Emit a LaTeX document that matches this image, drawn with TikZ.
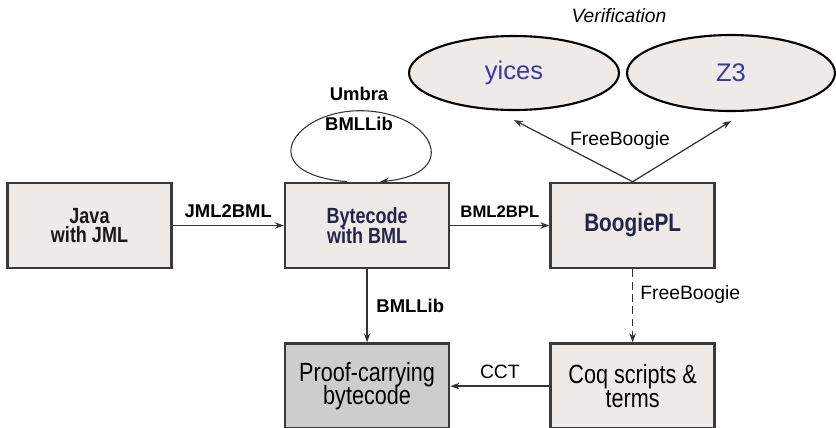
\documentclass[tikz,border=0pt]{standalone}
\usepackage{fontspec}
\setmainfont{Liberation Sans}
\newfontfamily\narrowsf[FakeStretch=0.82]{Liberation Sans}
\usepackage{xcolor}
\usetikzlibrary{arrows.meta,positioning,shapes.geometric}

\definecolor{boxfill}{HTML}{EEEAE7}
\definecolor{pcbfill}{HTML}{CDCDCD}
\definecolor{boxline}{HTML}{3A3A3A}
\definecolor{navy}{HTML}{24244A}
\definecolor{solverblue}{HTML}{3A3A9E}
\setlength{\lineskiplimit}{-20pt}

\begin{document}
\begin{tikzpicture}[
  x=0.02cm, y=-0.02cm,
  box/.style={draw=boxline, line width=1.5pt, fill=boxfill, align=center,
              minimum width=3.28cm, minimum height=1.7cm, inner sep=2pt},
  tool/.style={box, font=\narrowsf\bfseries\fontsize{12.5}{11}\selectfont},
  result/.style={box, font=\narrowsf\fontsize{15}{13.5}\selectfont},
  solver/.style={ellipse, draw, line width=1.2pt, fill=boxfill, inner sep=0pt,
                 text=solverblue, font=\fontsize{14.5}{16}\selectfont},
  lbl/.style={font=\bfseries\fontsize{10.5}{12}\selectfont, inner sep=1pt},
  note/.style={font=\fontsize{11}{12}\selectfont, inner sep=1pt},
  arr/.style={-{Stealth[length=1.8mm, width=1.3mm]}, line width=0.7pt, draw=black!80}
]
\useasboundingbox (0,0) rectangle (836,427);
\node[tool, text=black!90] (java) at (89.5,225.5) {Java\\with JML};
\node[tool, text=navy, right=2.22cm of java] (byte) {Bytecode\\with BML};
\node[tool, text=navy, right=1.98cm of byte,
      font=\narrowsf\bfseries\fontsize{14.4}{15}\selectfont] (boogie) {BoogiePL};
\node[result, fill=pcbfill, below=1.46cm of byte] (pcb) {Proof-carrying\\bytecode};
\node[result, below=1.46cm of boogie] (coq) {Coq scripts \&\\terms};
\node[solver, minimum width=4.2cm, minimum height=1.48cm] (yices) at (514,73) {yices};
\node[solver, minimum width=4.16cm, minimum height=1.52cm] (z3) at (731,73) {Z3};
\node[note, font=\itshape\fontsize{11}{12}\selectfont] (verif) at (619,16) {Verification};
\node[note] (fbtop) at (620,140) {FreeBoogie};
\node[lbl, align=center] (umbra) at (359,109) {Umbra\\[5pt]BMLLib};
\draw[arr] (java) -- node[lbl, above=3pt] {JML2BML} (byte);
\draw[arr] (byte) -- node[lbl, above=3pt, font=\bfseries\fontsize{9.5}{11}\selectfont] {BML2BPL} (boogie);
\draw[arr] (byte) -- node[lbl, right=4pt] {BMLLib} (pcb);
\draw[arr, dash pattern=on 4.5pt off 2.5pt] (boogie) -- node[note, right=3pt, pos=0.35] {FreeBoogie} (coq);
\draw[arr] (coq) -- node[note, above=3pt] {CCT} (pcb);
\draw[arr] (boogie.north) -- ([yshift=-1.8mm]yices.south);
\draw[arr] (boogie.north) -- ([yshift=-1.8mm]z3.south);
\draw[arr, line width=0.6pt] ([xshift=-0.4cm]byte.north) .. controls +(-95,-8) and +(-68,0)
  .. ([xshift=-0.14cm, yshift=1.42cm]byte.north) .. controls +(72,0) and +(84,-8)
  .. ([xshift=0.26cm]byte.north);
\end{tikzpicture}
\end{document}
